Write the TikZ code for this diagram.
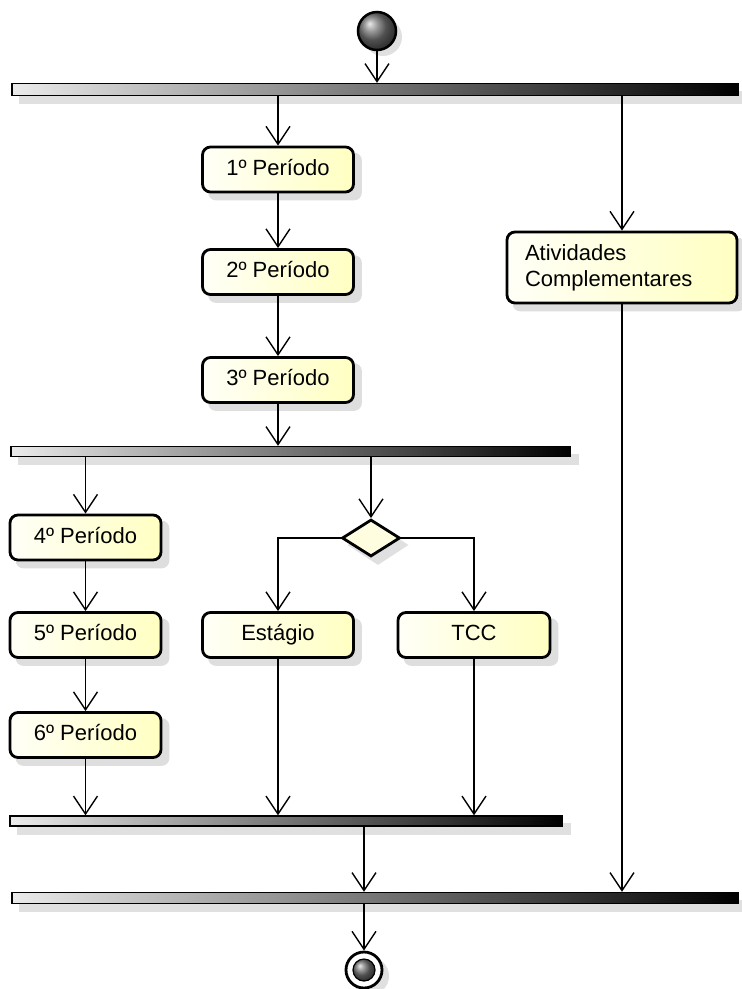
\documentclass[tikz,border=0pt]{standalone}
\usepackage{fontspec}
\setmainfont{Liberation Sans}
\usetikzlibrary{positioning, arrows.meta, shapes.geometric, backgrounds}

\begin{document}
\begin{tikzpicture}[x=1pt, y=-1pt,
  box/.style={draw, line width=2.8pt, rounded corners=8pt, left color=yellow!3, right color=yellow!24,
    inner sep=0pt, font=\fontsize{22}{26}\selectfont},
  act/.style={box, minimum width=151pt, minimum height=45pt, text height=16pt, text depth=5pt},
  bar/.style={draw, line width=1.3pt, left color=black!8, right color=black, inner sep=0pt},
  flow/.style={line width=1.4pt, -{Straight Barb[length=18pt, width=24pt, line width=1.4pt]}}]
\useasboundingbox (0,0) rectangle (742,989);

% start and first fork
\node[circle, draw, line width=2.5pt, shading=ball, ball color=black!55, minimum size=38pt] (inicio) at (377,31) {};
\node[bar, minimum width=726pt, minimum height=12pt] (fork1) at (375,89.5) {};

% first periods
\node[act] (p1) at (278,169.5) {1º Período};
\node[act] (p2) at (278,272) {2º Período};
\node[act] (p3) at (278,380) {3º Período};
\node[box, minimum width=230pt, minimum height=71pt, align=left, text width=194pt, inner xsep=18pt]
  (ativ) at (622,267.5) {Atividades\\Complementares};

% second fork
\node[bar, minimum width=559pt, minimum height=10pt] (fork2) at (290.5,451.5) {};
\node[act] (p4) at (85.5,537.5) {4º Período};
\node[act] (p5) at (85.5,635) {5º Período};
\node[act] (p6) at (85.5,735) {6º Período};
\node[diamond, draw, line width=2.8pt, fill=yellow!12, minimum width=58pt, minimum height=37pt, inner sep=0pt] (dec) at (371,538) {};
\node[act] (est) at (278,635) {Estágio};
\node[act, minimum width=152pt] (tcc) at (474,635) {TCC};

% joins and end
\node[bar, minimum width=552pt, minimum height=10pt] (join1) at (286,821) {};
\node[bar, minimum width=726pt, minimum height=11pt] (join2) at (375,898) {};
\node[circle, draw, line width=2.8pt, minimum size=36pt, fill=white] (fim) at (364,970) {};
\node[circle, draw, line width=1.2pt, shading=ball, ball color=black!55, minimum size=22pt] (fimb) at (fim) {};

% shadows
\begin{scope}[on background layer]
\foreach \n in {p1,p2,p3,p4,p5,p6,est,tcc,ativ}
  \fill[black!13, rounded corners=8pt] ([shift={(7,7)}]\n.north west) rectangle ([shift={(7,7)}]\n.south east);
\foreach \n in {fork1,fork2,join1,join2}
  \fill[black!12] ([shift={(8,8)}]\n.north west) rectangle ([shift={(8,8)}]\n.south east);
\fill[black!12] ([shift={(7,7)}]dec.north) -- ([shift={(7,7)}]dec.east) -- ([shift={(7,7)}]dec.south) -- ([shift={(7,7)}]dec.west) -- cycle;
\fill[black!12] ([shift={(6,6)}]inicio.center) circle (19);
\fill[black!12] ([shift={(6,6)}]fim.center) circle (19);
\end{scope}

% flows
\draw[flow] (inicio) -- (inicio |- fork1.north);
\draw[flow] (fork1.south -| p1) -- (p1);
\draw[flow] (fork1.south -| ativ) -- (ativ);
\draw[flow] (p1) -- (p2);
\draw[flow] (p2) -- (p3);
\draw[flow] (p3) -- (p3 |- fork2.north);
\draw[flow] (fork2.south -| p4) -- (p4);
\draw[flow] (fork2.south -| dec) -- (dec);
\draw[flow] (p4) -- (p5);
\draw[flow] (p5) -- (p6);
\draw[flow] (dec.west) -| (est.north);
\draw[flow] (dec.east) -| (tcc.north);
\draw[flow] (p6) -- (p6 |- join1.north);
\draw[flow] (est) -- (est |- join1.north);
\draw[flow] (tcc) -- (tcc |- join1.north);
\draw[flow] (join1.south -| fim) -- (fim |- join2.north);
\draw[flow] (ativ) -- (ativ |- join2.north);
\draw[flow] (join2.south -| fim) -- (fim);
\end{tikzpicture}
\end{document}
